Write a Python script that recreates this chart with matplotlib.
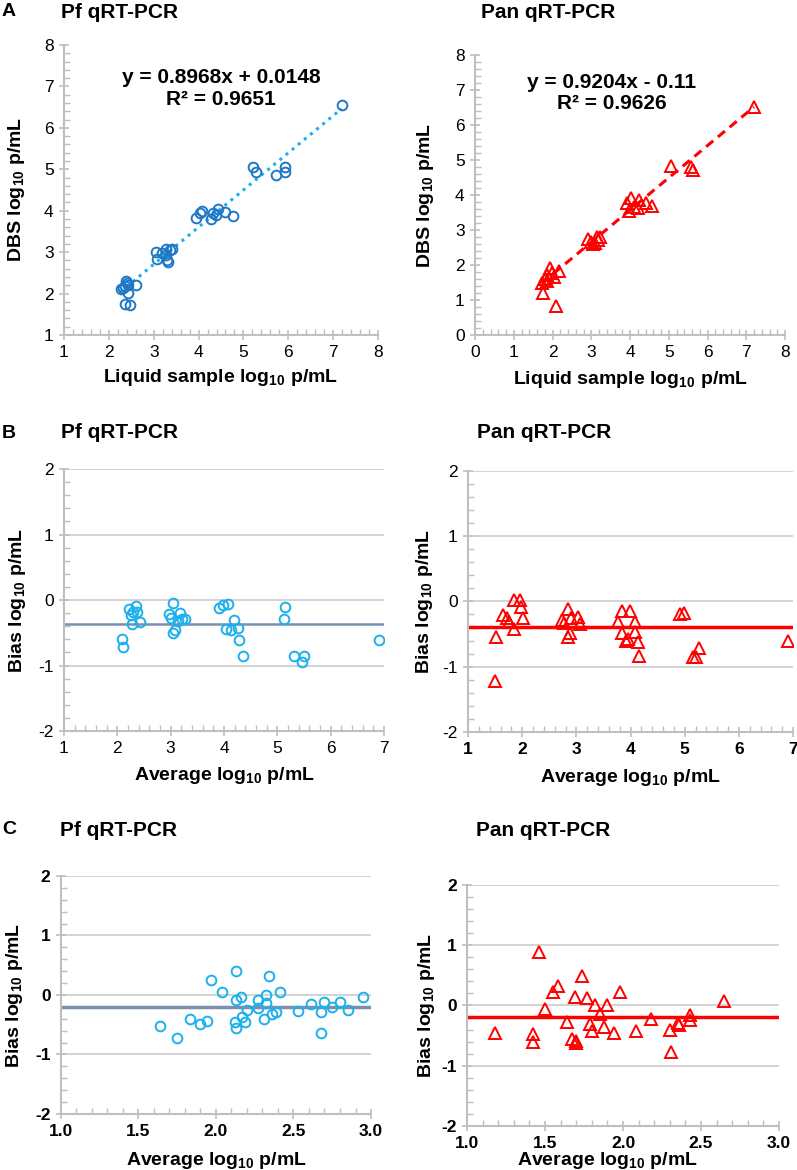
import numpy as np
import matplotlib
matplotlib.use("Agg")
import matplotlib.pyplot as plt
from matplotlib.ticker import MultipleLocator, FormatStrFormatter

plt.rcParams['font.family'] = ['Liberation Sans', 'DejaVu Sans']
plt.rcParams['mathtext.fontset'] = 'custom'
plt.rcParams['mathtext.rm'] = 'Liberation Sans'
plt.rcParams['mathtext.bf'] = 'Liberation Sans:bold'
plt.rcParams['axes.unicode_minus'] = False

# ---- data ----
# A: Pf, liquid vs DBS
pf_liq = [2.26, 2.38, 2.36, 2.43, 2.43, 2.61, 2.36, 2.47, 2.31, 2.40,
          3.06, 3.07, 3.28, 3.28, 3.32, 3.30, 3.37, 3.18, 3.40,
          3.95, 4.03, 4.08, 4.27, 4.33, 4.38, 4.44, 4.58, 4.76,
          5.21, 5.27, 5.73, 5.92, 5.92, 7.19]
pf_dbs = [2.10, 2.30, 2.17, 2.21, 2.02, 2.21, 1.75, 1.72, 2.14, 2.25,
          3.01, 2.83, 3.07, 2.93, 2.77, 2.80, 3.05, 2.97, 3.08,
          3.82, 3.94, 4.00, 3.79, 3.94, 3.90, 4.03, 3.96, 3.88,
          5.06, 4.94, 4.85, 5.06, 4.94, 6.55]
# A: Pan
pan_liq = [1.75, 2.09, 1.72, 1.85, 1.94, 1.98, 2.04, 2.18, 1.85, 1.80,
           2.92, 3.05, 3.14, 3.23, 3.10, 3.00, 3.18,
           3.93, 4.02, 3.97, 4.22, 4.20, 4.41, 4.56, 4.10,
           5.05, 5.57, 5.63, 7.20]
pan_dbs = [1.19, 0.83, 1.48, 1.71, 1.90, 1.76, 1.65, 1.84, 1.55, 1.60,
           2.73, 2.60, 2.81, 2.79, 2.62, 2.65, 2.70,
           3.78, 3.90, 3.55, 3.86, 3.62, 3.78, 3.69, 3.65,
           4.83, 4.81, 4.71, 6.52]
pf_fit = (0.8968, 0.0148)
pan_fit = (0.9204, -0.11)

# B: Bland-Altman, all samples
pf_b_avg = [2.08, 2.10, 2.21, 2.25, 2.30, 2.35, 2.36, 2.27, 2.43,
            2.96, 3.00, 3.05, 3.08, 3.04, 3.18, 3.21, 3.27, 3.13,
            3.91, 3.99, 4.08, 4.18, 4.03, 4.14, 4.27, 4.28, 4.36,
            5.14, 5.13, 5.32, 5.46, 5.50, 6.91]
pf_b_bias = [-0.60, -0.72, -0.14, -0.23, -0.18, -0.09, -0.19, -0.36, -0.34,
             -0.21, -0.28, -0.04, -0.45, -0.51, -0.20, -0.29, -0.29, -0.32,
             -0.12, -0.07, -0.06, -0.30, -0.44, -0.46, -0.42, -0.61, -0.85,
             -0.11, -0.29, -0.85, -0.94, -0.85, -0.61]
pf_b_mean = -0.37
pan_b_avg = [1.49, 1.51, 1.64, 1.72, 1.76, 1.85, 1.85, 1.96, 1.97, 2.02,
             2.74, 2.77, 2.85, 2.85, 2.88, 2.91, 3.03, 3.07,
             3.76, 3.85, 3.85, 3.99, 3.92, 3.96, 4.09, 4.08, 4.13, 4.16,
             4.91, 4.99, 5.16, 5.21, 5.27, 6.90]
pan_b_bias = [-1.22, -0.54, -0.21, -0.26, -0.31, -0.42, 0.02, 0.02, -0.08, -0.26,
              -0.29, -0.33, -0.11, -0.54, -0.48, -0.26, -0.24, -0.35,
              -0.31, -0.48, -0.14, -0.14, -0.61, -0.58, -0.31, -0.47, -0.62, -0.84,
              -0.19, -0.17, -0.85, -0.85, -0.72, -0.61]
pan_b_mean = -0.39

# C: Bland-Altman, low density samples
pf_c_avg = [1.64, 1.75, 1.83, 1.90, 1.94, 1.97, 2.04, 2.13, 2.13, 2.16,
            2.12, 2.13, 2.17, 2.19, 2.20, 2.27, 2.27, 2.32, 2.32, 2.31,
            2.34, 2.36, 2.39, 2.41, 2.53, 2.61, 2.68, 2.68, 2.70, 2.75,
            2.80, 2.85, 2.95]
pf_c_bias = [-0.52, -0.73, -0.40, -0.49, -0.43, 0.25, 0.05, 0.41, -0.09, -0.03,
             -0.46, -0.56, -0.37, -0.45, -0.25, -0.09, -0.22, 0.00, -0.13, -0.41,
             0.32, -0.32, -0.29, 0.05, -0.27, -0.15, -0.29, -0.64, -0.11, -0.21,
             -0.11, -0.25, -0.03]
pf_c_mean = -0.21
pan_c_avg = [1.18, 1.42, 1.42, 1.46, 1.50, 1.55, 1.58, 1.64, 1.67, 1.69,
             1.70, 1.70, 1.74, 1.77, 1.79, 1.80, 1.82, 1.85, 1.88, 1.90,
             1.94, 1.98, 2.08, 2.18, 2.30, 2.31, 2.35, 2.36, 2.43, 2.43, 2.65]
pan_c_bias = [-0.45, -0.48, -0.61, 0.88, -0.05, 0.22, 0.32, -0.28, -0.55, 0.14,
              -0.59, -0.63, 0.49, 0.13, -0.30, -0.42, 0.01, -0.14, -0.35, 0.01,
              -0.45, 0.22, -0.43, -0.23, -0.40, -0.77, -0.29, -0.32, -0.15, -0.24, 0.07]
pan_c_mean = -0.19

dark_blue = '#1f78c6'
light_blue = '#1cb0ec'
slate = '#7b8fae'
red = '#ff0000'
grey = '#bfbfbf'

fig = plt.figure(figsize=(7.97, 11.7), dpi=100)


def style(ax, xmaj, xmin, ymaj, ymin, grid=False, xbold=False, ybold=False):
    for s in ['top', 'right']:
        ax.spines[s].set_visible(False)
    for s in ['left', 'bottom']:
        ax.spines[s].set_color(grey)
        ax.spines[s].set_linewidth(1.5)
    ax.xaxis.set_major_locator(MultipleLocator(xmaj))
    ax.xaxis.set_minor_locator(MultipleLocator(xmin))
    ax.yaxis.set_major_locator(MultipleLocator(ymaj))
    ax.yaxis.set_minor_locator(MultipleLocator(ymin))
    ax.tick_params(which='major', direction='inout', length=7, width=1.2, color=grey,
                   labelsize=12.5, pad=4)
    ax.tick_params(which='minor', direction='in', length=4, width=1.0, color=grey)
    if xbold:
        for t in ax.get_xticklabels():
            t.set_fontweight('bold')
    if ybold:
        for t in ax.get_yticklabels():
            t.set_fontweight('bold')
    if grid:
        ax.grid(axis='y', which='major', color='#d0d0d0', linewidth=1.3)
        ax.set_axisbelow(True)


def ylab(ax, text, x):
    ax.set_ylabel(text, fontsize=14, fontweight='bold')
    ax.yaxis.set_label_coords(x, 0.5)


def xlab(ax, text, y, x=0.5):
    ax.set_xlabel(text, fontsize=14, fontweight='bold')
    ax.xaxis.set_label_coords(x, y)


lbl_liq = r'Liquid sample log$_{\mathbf{10}}$ p/mL'
lbl_dbs = r'DBS log$_{\mathbf{10}}$ p/mL'
lbl_bias = r'Bias log$_{\mathbf{10}}$ p/mL'
lbl_avg = r'Average log$_{\mathbf{10}}$ p/mL'

# ---------------- A left ----------------
ax = fig.add_axes([0.0803, 0.7137, 0.394, 0.2479])
ax.set_xlim(1, 8)
ax.set_ylim(1, 8)
xs = np.array([min(pf_liq), max(pf_liq)])
ax.plot(xs, pf_fit[0] * xs + pf_fit[1], color=light_blue, lw=2.2, ls=(0, (1, 1.6)))
ax.plot(pf_liq, pf_dbs, 'o', mfc='none', mec=dark_blue, ms=7, mew=1.4)
style(ax, 1, 0.2, 1, 0.2)
ylab(ax, lbl_dbs, -0.118)
xlab(ax, lbl_liq, -0.11)
ax.text(0.5, 0.85, 'y = 0.8968x + 0.0148\nR² = 0.9651', transform=ax.transAxes,
        ha='center', va='center', fontsize=15, fontweight='bold', linespacing=1.15)

# ---------------- A right ----------------
ax = fig.add_axes([0.596, 0.7137, 0.389, 0.2393])
ax.set_xlim(0, 8)
ax.set_ylim(0, 8)
xs = np.array([min(pan_liq), max(pan_liq)])
ax.plot(xs, pan_fit[0] * xs + pan_fit[1], color=red, lw=2.2, ls=(0, (3, 2)))
ax.plot(pan_liq, pan_dbs, '^', mfc='none', mec=red, ms=8, mew=1.4)
style(ax, 1, 0.2, 1, 0.2)
ylab(ax, lbl_dbs, -0.126)
xlab(ax, lbl_liq, -0.12)
ax.text(0.44, 0.865, 'y = 0.9204x - 0.11\nR² = 0.9626', transform=ax.transAxes,
        ha='center', va='center', fontsize=15, fontweight='bold', linespacing=1.15)

# ---------------- B left ----------------
ax = fig.add_axes([0.0803, 0.3752, 0.4015, 0.2239])
ax.set_xlim(1, 7)
ax.set_ylim(-2, 2)
ax.axhline(pf_b_mean, color=slate, lw=1.8)
ax.plot(pf_b_avg, pf_b_bias, 'o', mfc='none', mec=light_blue, ms=7, mew=1.4)
style(ax, 1, 0.2, 1, 0.2, grid=True)
ylab(ax, lbl_bias, -0.112)
xlab(ax, lbl_avg, -0.13)

# ---------------- B right ----------------
ax = fig.add_axes([0.5872, 0.3744, 0.4078, 0.2231])
ax.set_xlim(1, 7)
ax.set_ylim(-2, 2)
ax.axhline(pan_b_mean, color=red, lw=2.5)
ax.plot(pan_b_avg, pan_b_bias, '^', mfc='none', mec=red, ms=8, mew=1.4)
style(ax, 1, 0.2, 1, 0.2, grid=True, xbold=True)
ylab(ax, lbl_bias, -0.10)
xlab(ax, lbl_avg, -0.135)

# ---------------- C left ----------------
ax = fig.add_axes([0.0765, 0.0479, 0.389, 0.2034])
ax.set_xlim(1, 3)
ax.set_ylim(-2, 2)
ax.axhline(pf_c_mean, color=slate, lw=2.5)
ax.plot(pf_c_avg, pf_c_bias, 'o', mfc='none', mec=light_blue, ms=7, mew=1.4)
style(ax, 0.5, 0.1, 1, 0.2, grid=True, xbold=True, ybold=True)
ax.xaxis.set_major_formatter(FormatStrFormatter('%.1f'))
ylab(ax, lbl_bias, -0.116)
xlab(ax, lbl_avg, -0.15)

# ---------------- C right ----------------
ax = fig.add_axes([0.586, 0.0376, 0.3915, 0.206])
ax.set_xlim(1, 3)
ax.set_ylim(-2, 2)
ax.axhline(pan_c_mean, color=red, lw=2.5)
ax.plot(pan_c_avg, pan_c_bias, '^', mfc='none', mec=red, ms=8, mew=1.4)
style(ax, 0.5, 0.1, 1, 0.2, grid=True, xbold=True, ybold=True)
ax.xaxis.set_major_formatter(FormatStrFormatter('%.1f'))
ylab(ax, lbl_bias, -0.096)
xlab(ax, lbl_avg, -0.1, x=0.45)

# ---------------- panel titles ----------------
H = 1170.0
W = 797.0
for letter, ypx in [('A', 12), ('B', 433), ('C', 830)]:
    fig.text(2 / W, 1 - ypx / H, letter, fontsize=14, fontweight='bold', ha='left', va='center')
for txt, xpx, ypx in [('Pf qRT-PCR', 61, 12), ('Pan qRT-PCR', 481, 12),
                      ('Pf qRT-PCR', 61, 432), ('Pan qRT-PCR', 477, 432),
                      ('Pf qRT-PCR', 60, 830), ('Pan qRT-PCR', 476, 830)]:
    fig.text(xpx / W, 1 - ypx / H, txt, fontsize=15, fontweight='bold', ha='left', va='center')

fig.savefig('out.png', dpi=100)
